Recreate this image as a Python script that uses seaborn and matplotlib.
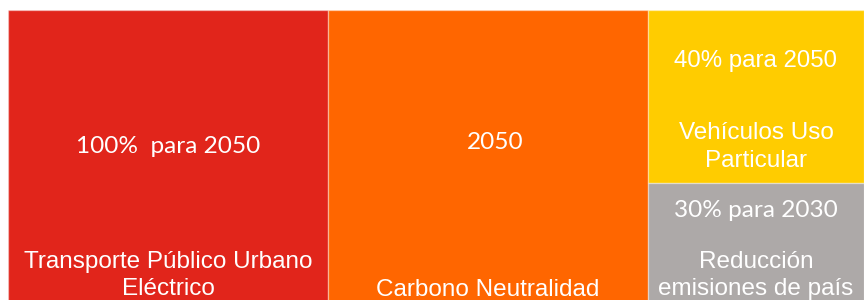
import matplotlib
matplotlib.use("Agg")
import matplotlib.pyplot as plt
import seaborn as sns

# Datos del treemap
categorias = ["Transporte Público Urbano\nEléctrico", "Carbono Neutralidad",
              "Vehículos Uso\nParticular", "Reducción\nemisiones de país"]
metas = ["100%  para 2050", "2050", "40% para 2050", "30% para 2030"]
valores = [100, 100, 38.5, 29]
columna = [0, 1, 2, 2]
colores = ["#E1251B", "#FF6600", "#FFCC00", "#ADA9A8"]

sns.set_theme(style="white")

fig = plt.figure(figsize=(8.64, 3.0), dpi=100)
ax = fig.add_axes([8 / 864, -13 / 300, 856 / 864, 303 / 300])

# totales por columna
tot_col = {}
for c, v in zip(columna, valores):
    tot_col[c] = tot_col.get(c, 0) + v
x_col = {}
acum = 0
for c in sorted(tot_col):
    x_col[c] = acum
    acum += tot_col[c]

# posiciones de los textos (fraccion de altura del eje / desplazamiento en x)
pos_meta = [0.548, 0.562, 0.832, 0.337]
dx_meta = [0.0, 0.022, 0.0, 0.0]
pos_cat = [0.123, 0.076, 0.548, 0.123]
arial = ["Liberation Sans", "DejaVu Sans"]
fuente_meta = [["Lato"], ["Lato"], arial, ["Lato"]]
tam_meta = [17.6, 17.6, 17.3, 17.6]

ocupado = {c: 1.0 for c in tot_col}
for i, (c, v) in enumerate(zip(columna, valores)):
    ancho = tot_col[c]
    alto = v / tot_col[c]
    base = ocupado[c] - alto
    ax.bar(x_col[c], alto, width=ancho, bottom=base, align="edge",
           color=colores[i], edgecolor=(1, 1, 1, 0.35), linewidth=1)
    ocupado[c] = base
    xc = x_col[c] + ancho / 2
    ax.text(xc + ancho * dx_meta[i], pos_meta[i], metas[i], ha="center",
            va="center", color="white", fontsize=tam_meta[i],
            family=fuente_meta[i])
    ax.text(xc, pos_cat[i], categorias[i], ha="center", va="center",
            color="white", fontsize=17.5, family=arial,
            linespacing=1.3)

ax.set_xlim(0, acum)
ax.set_ylim(0, 1)
ax.axis("off")

fig.savefig("out.png", dpi=100)
